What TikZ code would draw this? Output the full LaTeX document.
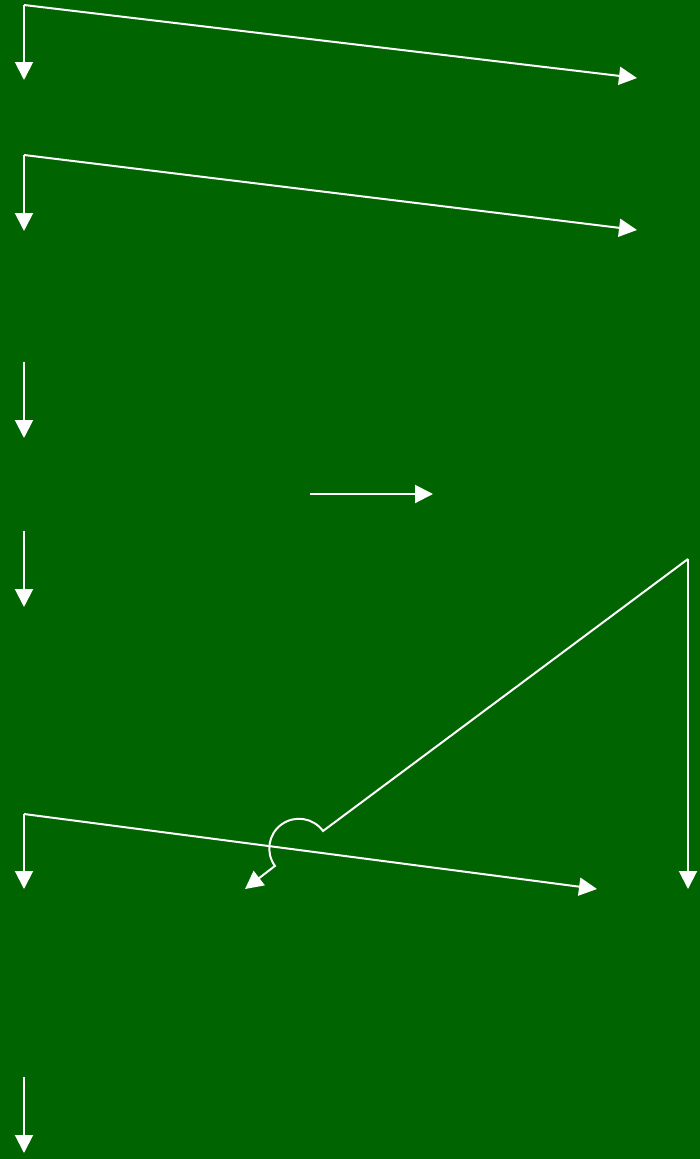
\documentclass[tikz,border=0pt]{standalone}
\usetikzlibrary{arrows.meta}
\definecolor{bggreen}{RGB}{0,100,0}
\tikzset{
  conn/.style={draw=white, line width=2pt, -{Triangle[length=18pt,width=18pt]}},
}
\begin{document}
\begin{tikzpicture}[x=1pt,y=-1pt]
\fill[bggreen] (0,0) rectangle (700,1159);
\useasboundingbox (0,0) rectangle (700,1159);
% coordinates
\coordinate (a0) at (24,5);   \coordinate (a1) at (24,80);  \coordinate (a2) at (637,78);
\coordinate (b0) at (24,155); \coordinate (b1) at (24,231); \coordinate (b2) at (637,230);
\coordinate (c0) at (24,362); \coordinate (c1) at (24,438);
\coordinate (d0) at (310,494); \coordinate (d1) at (433,494);
\coordinate (e0) at (24,531); \coordinate (e1) at (24,607);
\coordinate (f0) at (688,559); \coordinate (f1) at (688,889);
\coordinate (h0) at (323,831); \coordinate (h1) at (275,866); \coordinate (h2) at (245,889);
\coordinate (g0) at (24,814); \coordinate (g1) at (24,889); \coordinate (g2) at (597,889);
\coordinate (k0) at (24,1077); \coordinate (k1) at (24,1153);
% connectors
\draw[conn] (a0) -- (a1);
\draw[conn] (a0) -- (a2);
\draw[conn] (b0) -- (b1);
\draw[conn] (b0) -- (b2);
\draw[conn] (c0) -- (c1);
\draw[conn] (d0) -- (d1);
\draw[conn] (e0) -- (e1);
\draw[conn] (f0) -- (f1);
\draw[conn] (f0) -- (h0) arc[start angle=-36, end angle=-216, radius=29.7] -- (h2);
\draw[conn] (g0) -- (g1);
\draw[conn] (g0) -- (g2);
\draw[conn] (k0) -- (k1);
\end{tikzpicture}
\end{document}
